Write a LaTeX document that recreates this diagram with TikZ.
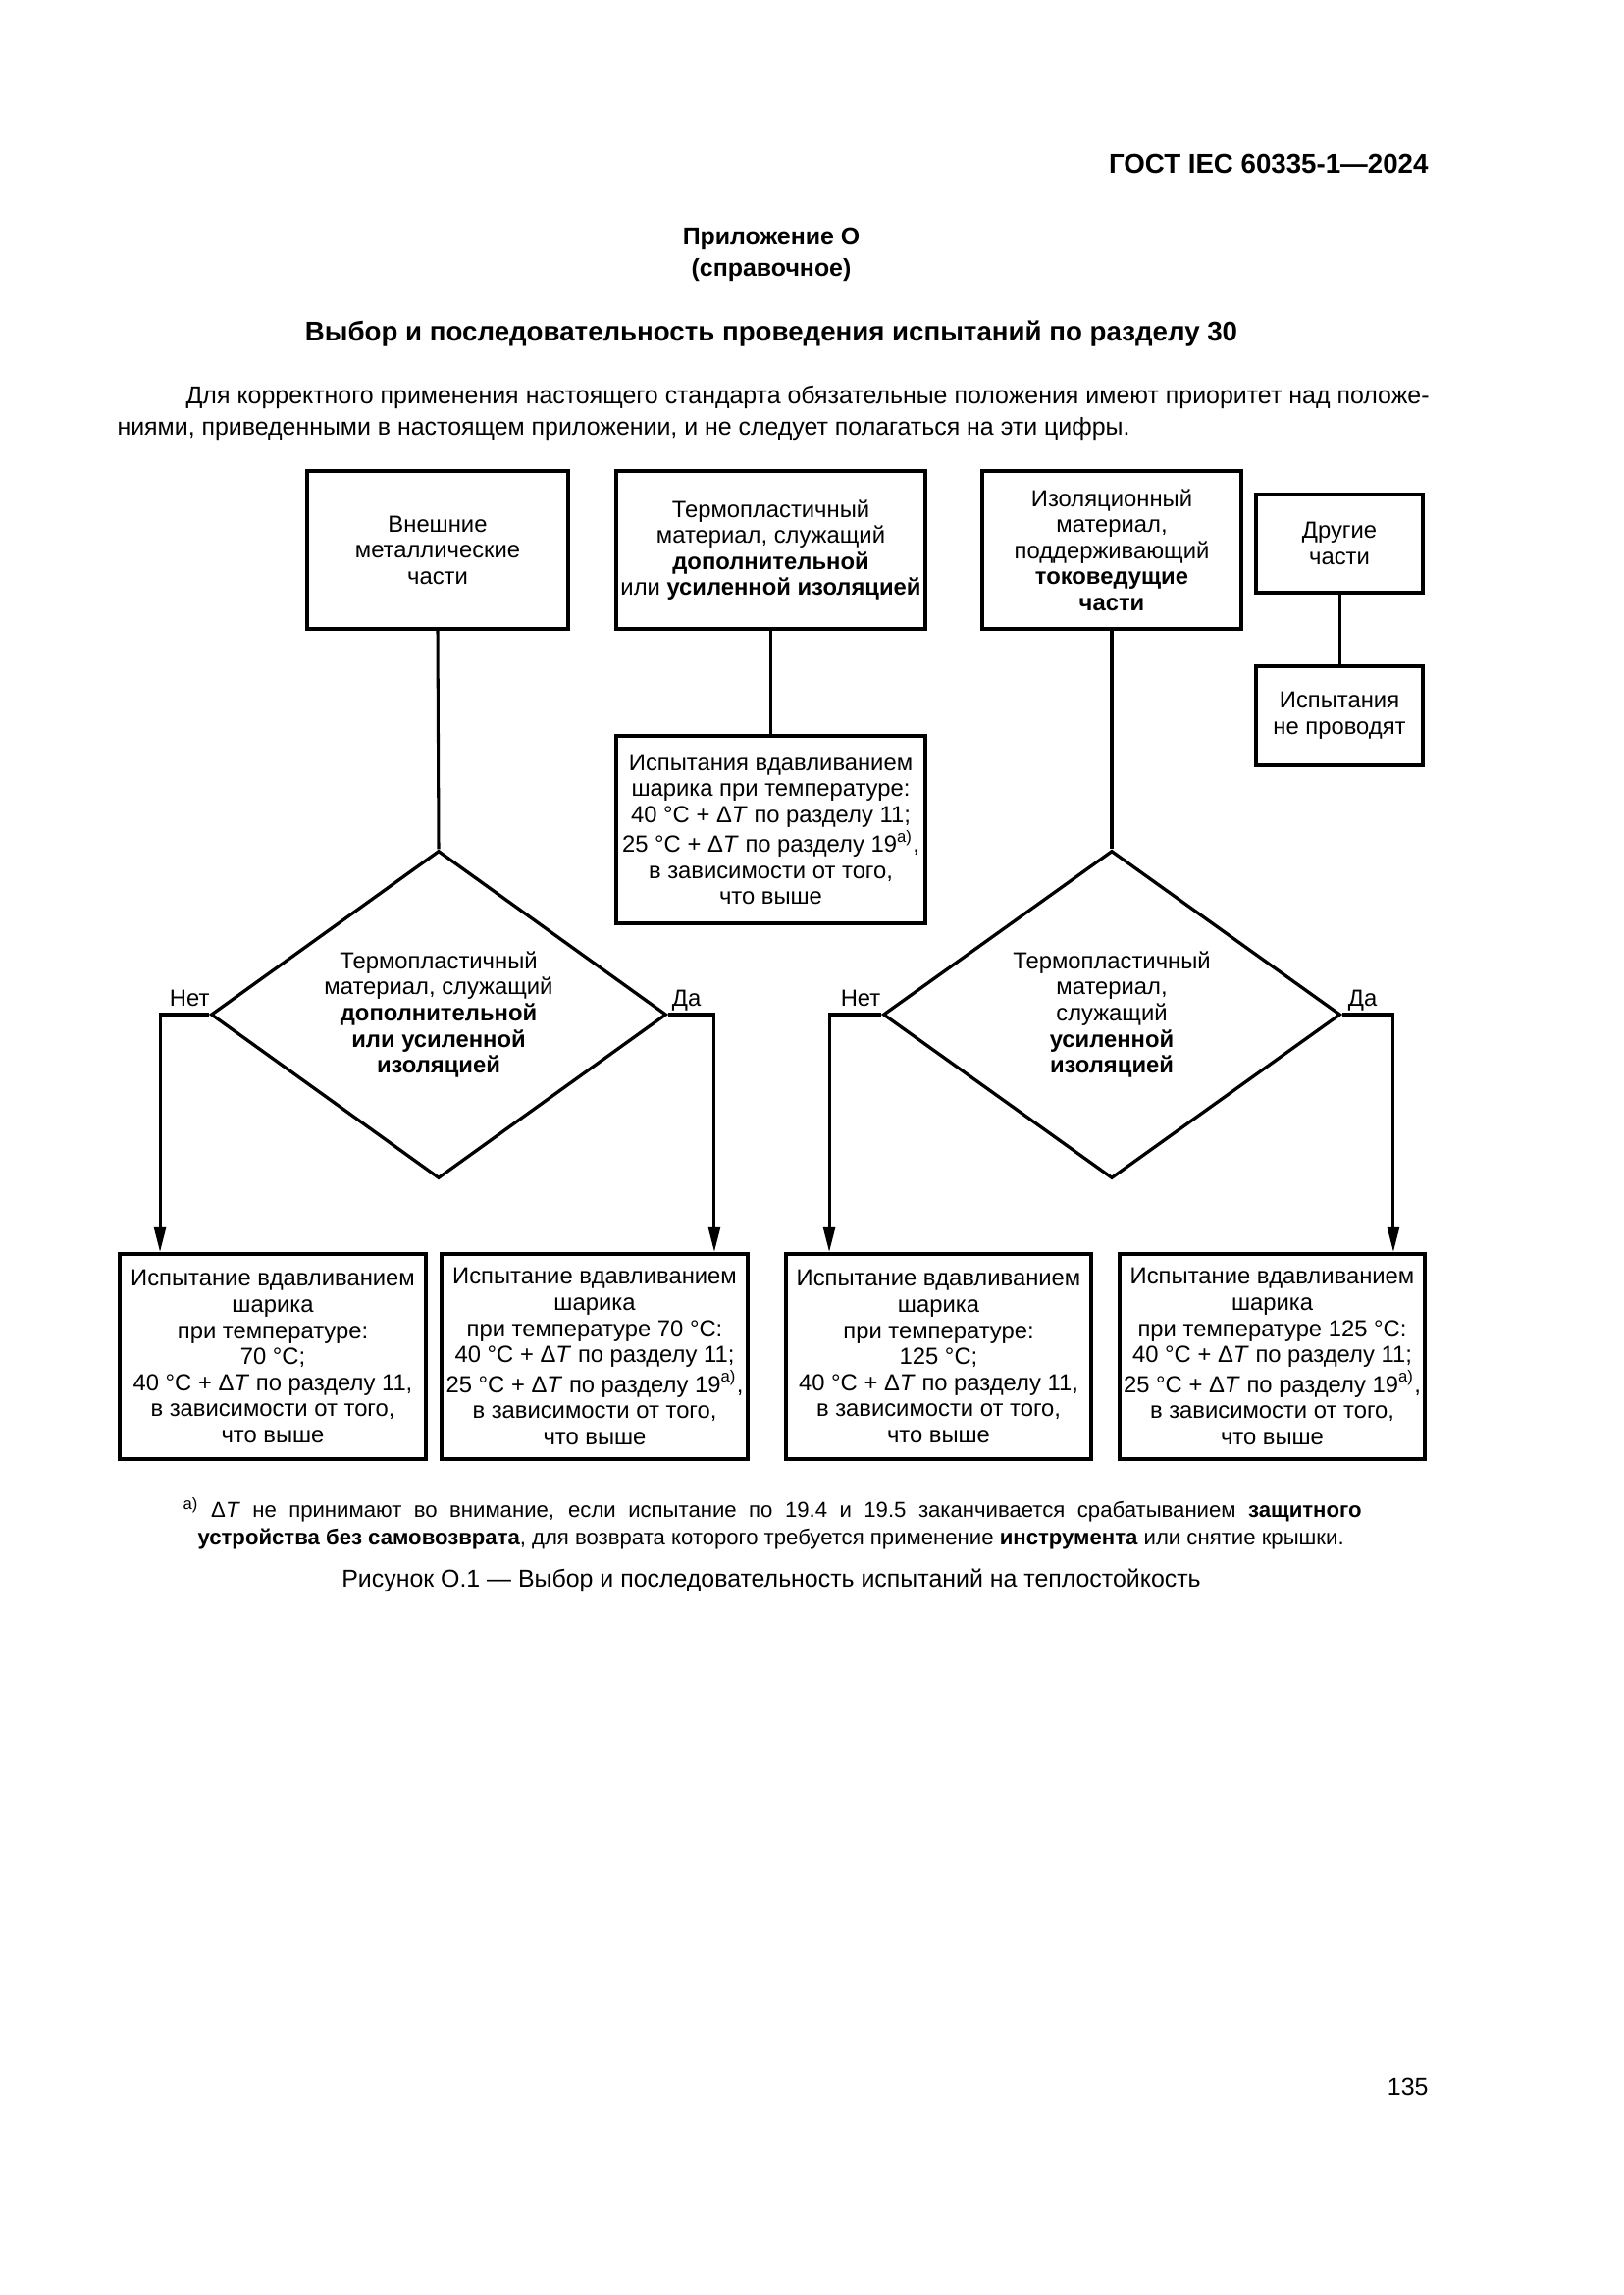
\documentclass[tikz,border=0pt]{standalone}
\usepackage{fontspec}
\setmainfont{Liberation Sans}
\usetikzlibrary{shapes.geometric,arrows.meta}
\newcommand{\dT}{Δ\textit{T}}
\newcommand{\fnm}{\textsuperscript{а)}}
\begin{document}
\begin{tikzpicture}[x=0.127mm,y=-0.127mm,
  box/.style={draw, line width=1.4pt, align=center, inner sep=0pt, font=\fontsize{8.6}{9.6}\selectfont},
  dia/.style={draw, diamond, shape aspect=1.39, line width=1.2pt, align=center, inner sep=0pt, font=\fontsize{8.6}{9.6}\selectfont},
  conn/.style={line width=1.1pt},
  arr/.style={line width=1.1pt, -{Triangle[length=3.2mm,width=1.5mm]}},
  lbl/.style={font=\fontsize{8.6}{10}\selectfont, inner sep=1.5pt, text height=1.6ex, text depth=0.2ex},
  boldnine/.style={font=\fontsize{9}{11.5}\selectfont\bfseries, inner sep=0pt}
]
\path[use as bounding box] (0,0) rectangle (1654,2339);

% header texts
\node[font=\fontsize{10}{12}\selectfont\bfseries, inner sep=0pt, anchor=east] (hdr) at (1456,167) {ГОСТ IEC 60335-1—2024};
\node[boldnine, align=center] (app) at (786,259) {Приложение О\\(справочное)};
\node[font=\fontsize{10}{12}\selectfont\bfseries, inner sep=0pt] (title) at (786,340) {Выбор и последовательность проведения испытаний по разделу 30};
\node[anchor=north west, text width=1337*0.127mm, align=justify, inner sep=0pt,
      font=\fontsize{9}{11.3}\selectfont] (para) at (119,393)
  {\hspace*{8.9mm}Для корректного применения настоящего стандарта обязательные положения имеют приоритет над положе-\linebreak ниями, приведенными в настоящем приложении, и не следует полагаться на эти цифры.};

% top boxes
\node[box, minimum width=266*0.127mm, minimum height=161*0.127mm] (b1) at (446,560.5)
  {Внешние\\металлические\\части};
\node[box, minimum width=315*0.127mm, minimum height=161*0.127mm] (b2) at (785.5,560.5)
  {Термопластичный\\материал, служащий\\\textbf{дополнительной}\\или \textbf{усиленной изоляцией}};
\node[box, minimum width=264*0.127mm, minimum height=161*0.127mm] (b3) at (1133,560.5)
  {Изоляционный\\материал,\\поддерживающий\\\textbf{токоведущие}\\\textbf{части}};
\node[box, minimum width=170*0.127mm, minimum height=100*0.127mm] (b4) at (1365,554)
  {Другие\\части};
\node[box, minimum width=170*0.127mm, minimum height=101*0.127mm] (b5) at (1365,729.5)
  {Испытания\\не проводят};
\node[box, minimum width=315*0.127mm, minimum height=191*0.127mm] (b6) at (785.5,845.5)
  {Испытания вдавливанием\\шарика при температуре:\\40 °C + \dT{} по разделу 11;\\25 °C + \dT{} по разделу 19\fnm,\\в зависимости от того,\\что выше};

% diamonds
\node[dia, minimum width=464*0.127mm, minimum height=334*0.127mm] (d1) at (447,1034)
  {Термопластичный\\материал, служащий\\\textbf{дополнительной}\\\textbf{или усиленной}\\\textbf{изоляцией}};
\node[dia, minimum width=466*0.127mm, minimum height=334*0.127mm] (d2) at (1133,1034)
  {Термопластичный\\материал,\\служащий\\\textbf{усиленной}\\\textbf{изоляцией}};

% bottom boxes
\node[box, minimum width=312*0.127mm, minimum height=209*0.127mm] (t1) at (278,1382.5)
  {Испытание вдавливанием\\шарика\\при температуре:\\70 °C;\\40 °C + \dT{} по разделу 11,\\в зависимости от того,\\что выше};
\node[box, minimum width=312*0.127mm, minimum height=209*0.127mm] (t2) at (606,1382.5)
  {Испытание вдавливанием\\шарика\\при температуре 70 °C:\\40 °C + \dT{} по разделу 11;\\25 °C + \dT{} по разделу 19\fnm,\\в зависимости от того,\\что выше};
\node[box, minimum width=311*0.127mm, minimum height=209*0.127mm] (t3) at (956.5,1382.5)
  {Испытание вдавливанием\\шарика\\при температуре:\\125 °C;\\40 °C + \dT{} по разделу 11,\\в зависимости от того,\\что выше};
\node[box, minimum width=311*0.127mm, minimum height=209*0.127mm] (t4) at (1296.5,1382.5)
  {Испытание вдавливанием\\шарика\\при температуре 125 °C:\\40 °C + \dT{} по разделу 11;\\25 °C + \dT{} по разделу 19\fnm,\\в зависимости от того,\\что выше};

% connectors
\draw[conn] (b1.south) -- (d1.north);
\draw[conn] (b2.south) -- (b6.north);
\draw[conn] (b3.south) -- (d2.north);
\draw[conn] (b4.south) -- (b5.north);
\draw[arr] (d1.west) -| node[lbl, pos=0.2, above] {Нет} ([xshift=5.46mm]t1.north west);
\draw[arr] (d1.east) -| node[lbl, pos=0.2, above] {Да} ([xshift=-4.57mm]t2.north east);
\draw[arr] (d2.west) -| node[lbl, pos=0.2, above] {Нет} ([xshift=5.84mm]t3.north west);
\draw[arr] (d2.east) -| node[lbl, pos=0.2, above] {Да} ([xshift=-4.32mm]t4.north east);

% footnote and caption
\node[anchor=north west, text width=1186*0.127mm, align=justify, inner sep=0pt,
      font=\fontsize{8}{10}\selectfont] (fn) at (201,1526)
  {\hspace*{-1.9mm}\fnm{} \dT{} не принимают во внимание, если испытание по 19.4 и 19.5 заканчивается срабатыванием \textbf{защитного}\linebreak \textbf{устройства без самовозврата}, для возврата которого требуется применение \textbf{инструмента} или снятие крышки.};
\node[font=\fontsize{9}{11}\selectfont, inner sep=0pt] (cap) at (786,1611)
  {Рисунок О.1 — Выбор и последовательность испытаний на теплостойкость};
\node[font=\fontsize{9}{11}\selectfont, inner sep=0pt, anchor=east] (pg) at (1456,2127) {135};
\end{tikzpicture}
\end{document}
